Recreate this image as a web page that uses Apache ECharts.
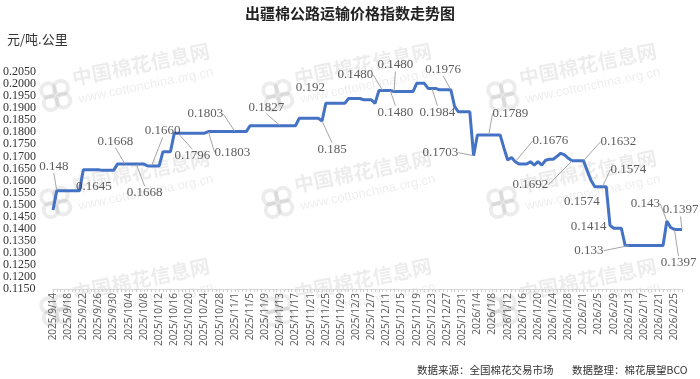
<!DOCTYPE html>
<html>
<head>
<meta charset="utf-8">
<script src="https://cdn.jsdelivr.net/npm/echarts@6/dist/echarts.min.js"></script>
<style>html,body{margin:0;padding:0;background:#fff;}#c{width:700px;height:379px;}</style>
</head>
<body>
<div id="c"></div>
<script>
// ---- data ----
const startDate = '2025/9/14';
const dayCount = 167; // 2025/9/14 .. 2026/2/27
const values = [
  0.1478,
  0.1558,0.1558,0.1558,0.1558,0.1558,0.1558,0.1558,
  0.1645,0.1645,0.1645,0.1645,0.1645,
  0.1642,0.1642,0.1642,0.1642,
  0.1668,0.1668,0.1668,0.1668,0.1668,0.1668,0.1668,0.1668,
  0.1660,0.1660,0.1660,0.1660,
  0.1719,0.1719,0.1719,
  0.1796,0.1796,0.1796,0.1796,0.1796,0.1796,0.1796,0.1796,0.1796,
  0.1803,0.1803,0.1803,0.1803,0.1803,0.1803,0.1803,0.1803,0.1803,0.1803,0.1803,
  0.1827,0.1827,0.1827,0.1827,0.1827,0.1827,0.1827,0.1827,0.1827,0.1827,0.1827,0.1827,0.1827,
  0.1858,0.1858,0.1858,0.1858,0.1858,0.1858,
  0.1847,
  0.1920,0.1920,0.1920,0.1920,0.1920,0.1920,
  0.1940,0.1940,0.1940,0.1940,
  0.1935,0.1935,0.1935,
  0.1920,
  0.1973,0.1973,0.1973,0.1973,
  0.1969,0.1969,0.1969,0.1969,0.1969,0.1969,
  0.2003,0.2003,0.2003,
  0.1982,0.1982,0.1982,
  0.1976,0.1976,0.1976,0.1976,
  0.1906,
  0.1885,0.1885,0.1885,0.1885,
  0.1703,
  0.1789,0.1789,0.1789,0.1789,0.1789,0.1789,0.1789,
  0.1735,
  0.1685,
  0.1695,
  0.1678,
  0.1668,0.1668,0.1668,
  0.1678,
  0.1664,
  0.1678,
  0.1664,
  0.1684,
  0.1688,0.1688,
  0.1700,
  0.1713,
  0.1706,
  0.1692,
  0.1682,0.1682,0.1682,0.1682,
  0.1640,
  0.1600,
  0.1574,0.1574,0.1574,0.1574,
  0.1414,
  0.1402,0.1402,0.1402,
  0.1330,0.1330,0.1330,0.1330,0.1330,0.1330,0.1330,0.1330,0.1330,0.1330,0.1330,
  0.1432,
  0.1405,
  0.1397,0.1397,0.1397
];
// data labels as printed on the original chart
const labelIndex = [1, 8, 19, 22, 26, 33, 48, 41, 60, 73, 71, 87, 90, 89, 105, 100, 111, 115, 122, 137, 140, 145, 143, 147, 152, 162, 166, 164];
const labelText = ['0.148','0.1645','0.1668','0.1668','0.1660','0.1796','0.1803','0.1803','0.1827','0.192','0.185','0.1480','0.1480','0.1480','0.1976','0.1984','0.1703','0.1789','0.1676','0.1692','0.1632','0.1574','0.1574','0.1414','0.133','0.143','0.1397','0.1397'];
const yMin = 0.115, yMax = 0.205, yStep = 0.005;
const titleText = '出疆棉公路运输价格指数走势图';
const unitText = '元/吨.公里';
const sourceText = '数据来源：全国棉花交易市场';
const editorText = '数据整理：棉花展望BCO';

// ---- label layout (pixel offsets from anchor point to label centre) ----
const labelOffset = [[-3,-24],[10.5,17],[-9.7,-23],[8.3,28.6],[11.1,-35],[14.3,22.5],[-29.5,-17.6],[24,20.7],[-14,-18.5],[-19.2,-16.1],[10,28.3],[-27.2,-15.6],[1.4,-26.5],[5.2,21.7],[-7.7,-20.6],[5.5,23.9],[-33.2,-3],[21.7,-21.6],[35.2,-20.7],[-41.7,24.3],[35,-19],[26,-17.5],[-12.9,14.9],[-21.5,1.3],[-40,5.1],[-21.4,-17.7],[-1.5,-19.4],[4.1,33.3]];
const noLeader = [1, 9, 22, 23];

// categories: consecutive days
const categories = [];
(function(){
  const p = startDate.split('/').map(Number);
  const d0 = Date.UTC(p[0], p[1]-1, p[2]);
  for (let i = 0; i < dayCount; i++) {
    const d = new Date(d0 + i*86400000);
    categories.push(d.getUTCFullYear() + '/' + (d.getUTCMonth()+1) + '/' + d.getUTCDate());
  }
})();

const chart = echarts.init(document.getElementById('c'), null, {renderer: 'canvas'});

const labelData = labelIndex.map((idx, i) => ({
  value: [idx, values[idx]],
  label: {formatter: labelText[i]},
  labelLine: {show: noLeader.indexOf(i) < 0}
}));

// watermarks
const wmColor = 'rgba(0,0,0,0.075)';
const wmCols = [55, 277, 502];
const wmRows = [94, 201, 309];
const graphics = [];
wmRows.forEach(y => wmCols.forEach(x => {
  graphics.push({
    type: 'group', x: x, y: y, rotation: 0.2, silent: true, z: -10,
    children: [
      {type: 'circle', shape: {cx: -6, cy: -5, r: 7}, style: {fill: 'none', stroke: wmColor, lineWidth: 4}},
      {type: 'circle', shape: {cx: 7, cy: -5, r: 7}, style: {fill: 'none', stroke: wmColor, lineWidth: 4}},
      {type: 'circle', shape: {cx: -6, cy: 8, r: 7}, style: {fill: 'none', stroke: wmColor, lineWidth: 4}},
      {type: 'circle', shape: {cx: 7, cy: 8, r: 7}, style: {fill: 'none', stroke: wmColor, lineWidth: 4}},
      {type: 'text', x: 20, y: -12, style: {text: '中国棉花信息网', font: 'bold 20px "Noto Sans CJK SC"', fill: wmColor, verticalAlign: 'middle'}},
      {type: 'text', x: 22, y: 10, style: {text: 'www.cottonchina.org.cn', font: '13px "Liberation Sans"', fill: wmColor, verticalAlign: 'middle'}}
    ]
  });
}));
graphics.push({type: 'text', left: 417, top: 365, style: {text: sourceText, font: '10.5px "Noto Sans CJK SC"', fill: '#333'}});
graphics.push({type: 'text', left: 572, top: 365, style: {text: editorText, font: '10.5px "Noto Sans CJK SC"', fill: '#333'}});

chart.setOption({
  animation: false,
  backgroundColor: '#fff',
  title: [
    {text: titleText, left: 'center', top: 6, padding: 0,
     textStyle: {fontFamily: 'Noto Sans CJK SC', fontSize: 15, fontWeight: 'bold', color: '#222'}},
    {text: unitText, left: 7, top: 33, padding: 0,
     textStyle: {fontFamily: 'Noto Sans CJK SC', fontSize: 13, fontWeight: 'normal', color: '#333'}}
  ],
  graphic: graphics,
  grid: {left: 52, right: 18, top: 72, bottom: 90},
  xAxis: {
    type: 'category', data: categories, boundaryGap: false,
    axisLine: {lineStyle: {color: '#d9d9d9'}},
    axisTick: {show: true, interval: 0, length: 3, lineStyle: {color: '#d0d0d0'}},
    axisLabel: {interval: 3, rotate: 90, fontSize: 10, fontFamily: 'Open Sans', color: '#595959', margin: 4}
  },
  yAxis: {
    type: 'value', min: yMin, max: yMax, interval: yStep,
    axisLine: {show: false}, axisTick: {show: false}, splitLine: {show: false},
    axisLabel: {align: 'left', margin: 50, fontFamily: 'Liberation Serif', fontSize: 12, color: '#333',
      formatter: v => v.toFixed(4)}
  },
  series: [
    {type: 'line', data: values, showSymbol: false, z: 3,
     lineStyle: {color: '#4472C4', width: 3}, itemStyle: {color: '#4472C4'}},
    {type: 'scatter', data: labelData, symbolSize: 1, z: 4,
     itemStyle: {color: 'rgba(0,0,0,0)'},
     label: {show: true, position: 'top', fontFamily: 'Liberation Serif', fontSize: 13, color: '#333'},
     labelLine: {show: true, lineStyle: {color: '#a6a6a6', width: 1}},
     labelLayout: function (params) {
       const i = params.dataIndex;
       const r = params.rect;
       const cx = r.x + r.width / 2, cy = r.y + r.height / 2;
       return {x: cx + labelOffset[i][0], y: cy + labelOffset[i][1], align: 'center', verticalAlign: 'middle'};
     }}
  ]
});
</script>
</body>
</html>
